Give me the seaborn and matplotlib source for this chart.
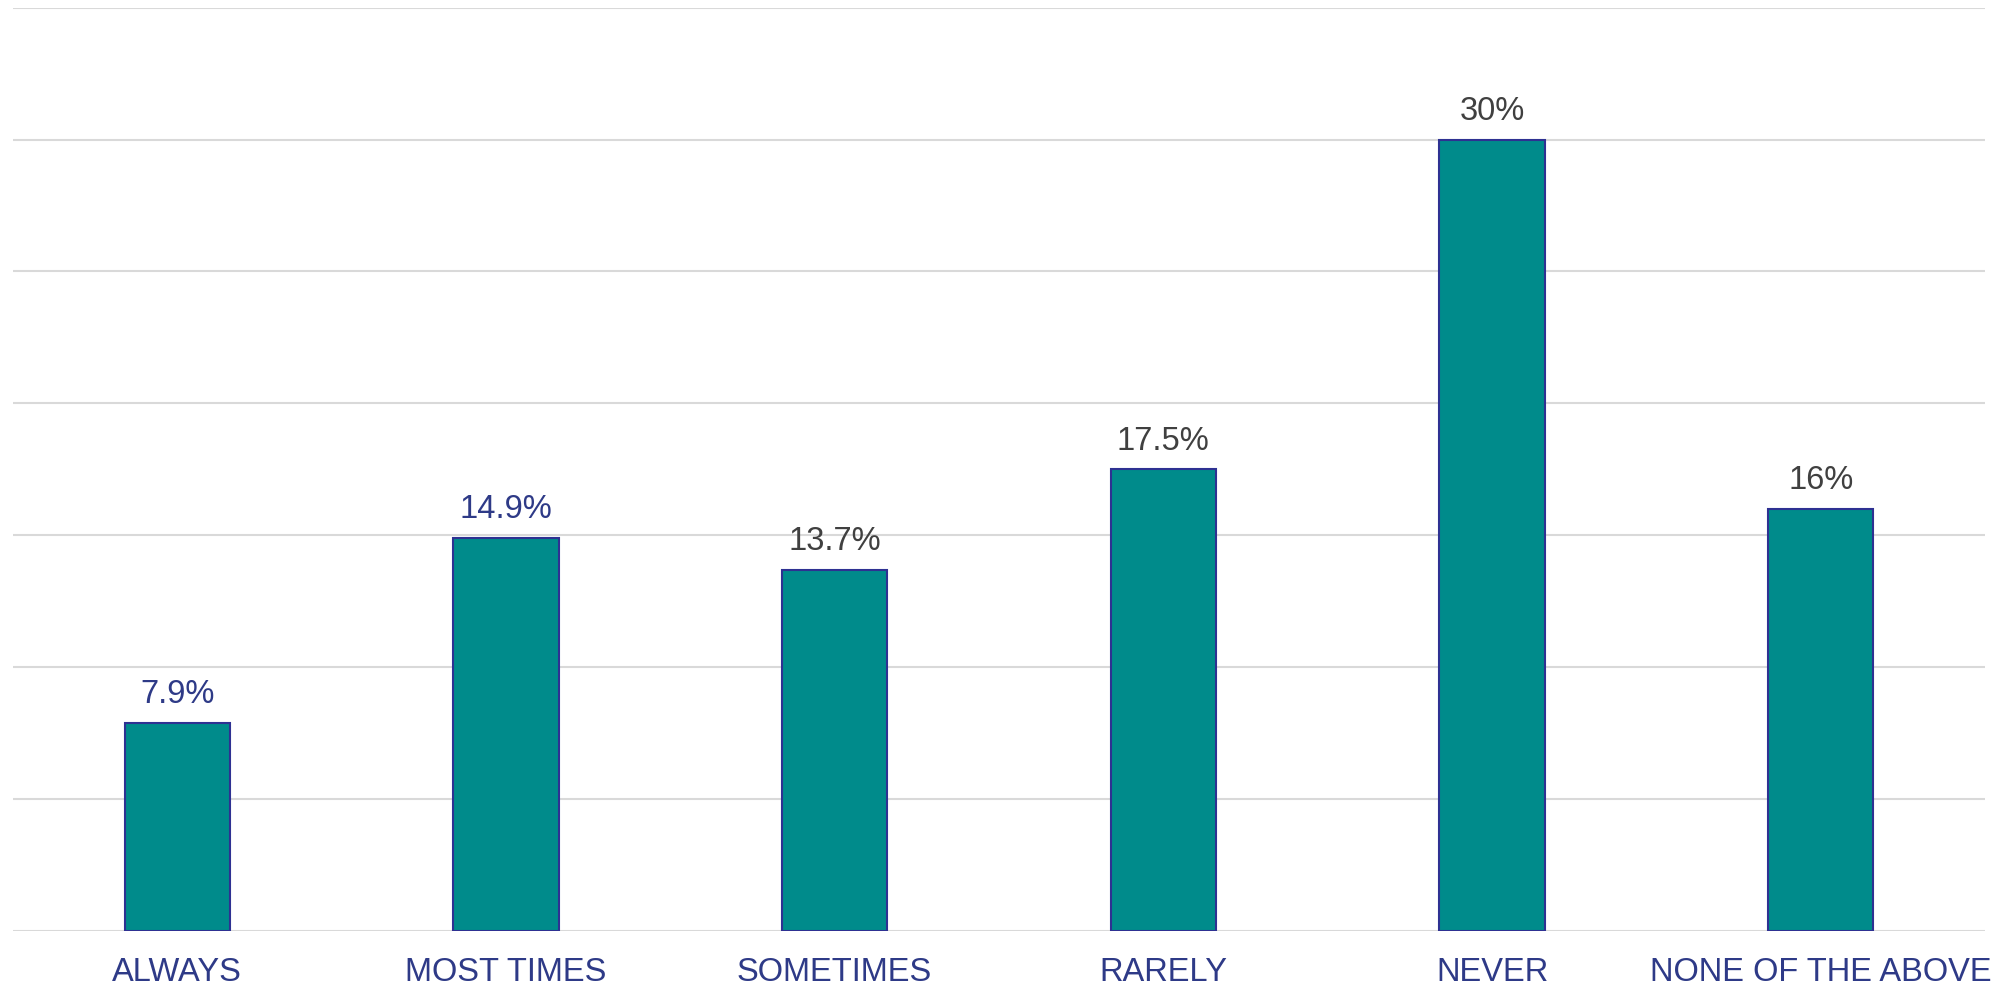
import pandas as pd
import seaborn as sns
import matplotlib.pyplot as plt

# Data
categories = ['ALWAYS', 'MOST TIMES', 'SOMETIMES', 'RARELY', 'NEVER', 'NONE OF THE ABOVE']
percent = [7.9, 14.9, 13.7, 17.5, 30, 16]

df = pd.DataFrame({'answer': categories, 'percent': percent})

sns.set_theme(style='white')
plt.rcParams['font.family'] = ['Liberation Sans', 'DejaVu Sans']

fig = plt.figure(figsize=(19.97, 9.85), dpi=100)
ax = fig.add_axes([0.0065, 0.0548, 0.9875, 0.9375])

sns.barplot(data=df, x='answer', y='percent', color='#008B8B', saturation=1,
            width=0.32, edgecolor='#2E3192', linewidth=1.5, ax=ax, zorder=3)

ax.set_ylim(0, 35)
ax.set_xlim(-0.5, 5.5)
ax.set_yticks(range(0, 36, 5))
ax.yaxis.grid(True, color='#D9D9D9', linewidth=1.5, zorder=0)
ax.set_axisbelow(True)
ax.set_yticklabels([])
ax.set_xlabel('')
ax.set_ylabel('')
sns.despine(ax=ax, left=True, bottom=True, top=True, right=True)
ax.tick_params(axis='both', length=0)
ax.tick_params(axis='x', labelsize=23.5, labelcolor='#2E3A87', pad=19)

# value labels
label_colors = ['#2E3A87', '#2E3A87', '#404040', '#404040', '#404040', '#404040']
bars = ax.containers[0]
texts = ax.bar_label(bars, labels=[f'{v:g}%' for v in percent], padding=9, fontsize=23.5)
for t, c in zip(texts, label_colors):
    t.set_color(c)

fig.savefig('out.png', dpi=100)
